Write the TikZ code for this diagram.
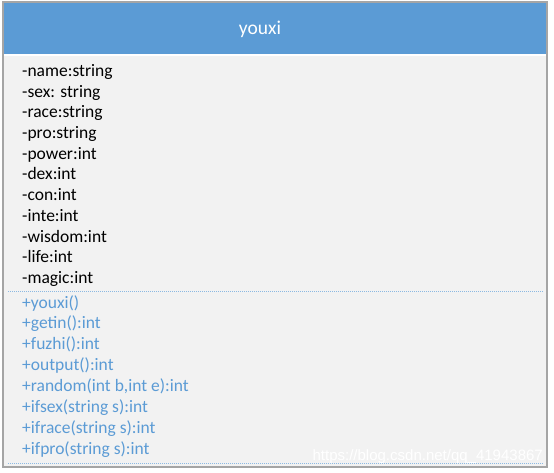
\documentclass[tikz,border=0pt]{standalone}
\usepackage{fontspec}
\setmainfont{Carlito}
\newfontfamily\markfont{Liberation Sans}
\definecolor{hdrblue}{HTML}{5B9BD5}
\definecolor{bodygray}{HTML}{F2F2F2}
\definecolor{framegray}{HTML}{A5A5A5}
\tikzset{
  attr/.style={anchor=base west, inner sep=0pt, font=\fontsize{17.5}{21}\selectfont},
  meth/.style={attr, text=hdrblue},
}

\begin{document}
\begin{tikzpicture}[x=1pt, y=-1pt]
\useasboundingbox (0,0) rectangle (554,473);
\fill[white] (0,0) rectangle (554,473);
\fill[bodygray] (4,3) rectangle (546,466);
\fill[hdrblue] (4,3) rectangle (546,54);
\draw[white, line width=1.2pt] (4,55) -- (546,55);
\draw[framegray, line width=2pt] (3,2) rectangle (547,467);

\node[anchor=base, inner sep=0pt, text=white, font=\fontsize{19.5}{23}\selectfont] (title) at (260,35) {youxi};

\node[attr] (name) at (22,76.5) {-name:string};
\node[attr] (sex) at (22,97.2) {-sex: string};
\node[attr] (race) at (22,117.9) {-race:string};
\node[attr] (pro) at (22,138.6) {-pro:string};
\node[attr] (power) at (22,159.3) {-power:int};
\node[attr] (dex) at (22,180) {-dex:int};
\node[attr] (con) at (22,200.7) {-con:int};
\node[attr] (inte) at (22,221.4) {-inte:int};
\node[attr] (wisdom) at (22,242.1) {-wisdom:int};
\node[attr] (life) at (22,262.8) {-life:int};
\node[attr] (magic) at (22,283.5) {-magic:int};

\draw[hdrblue!70, densely dotted, line width=1pt] (8,291) -- (543,291);

\node[meth] (youxi) at (22,308) {+youxi()};
\node[meth] (getin) at (22,328.9) {+getin():int};
\node[meth] (fuzhi) at (22,349.8) {+fuzhi():int};
\node[meth] (output) at (22,370.7) {+output():int};
\node[meth] (random) at (22,391.6) {+random(int b,int e):int};
\node[meth] (ifsex) at (22,412.5) {+ifsex(string s):int};
\node[meth] (ifrace) at (22,433.4) {+ifrace(string s):int};
\node[meth] (ifpro) at (22,454.3) {+ifpro(string s):int};

\draw[hdrblue!70, densely dotted, line width=1pt] (8,463) -- (543,463);

\node[anchor=base east, inner sep=0pt, text=white, font=\markfont\fontsize{15}{18}\selectfont] (mark) at (543,460) {https://blog.csdn.net/qq\_41943867};
\end{tikzpicture}
\end{document}
